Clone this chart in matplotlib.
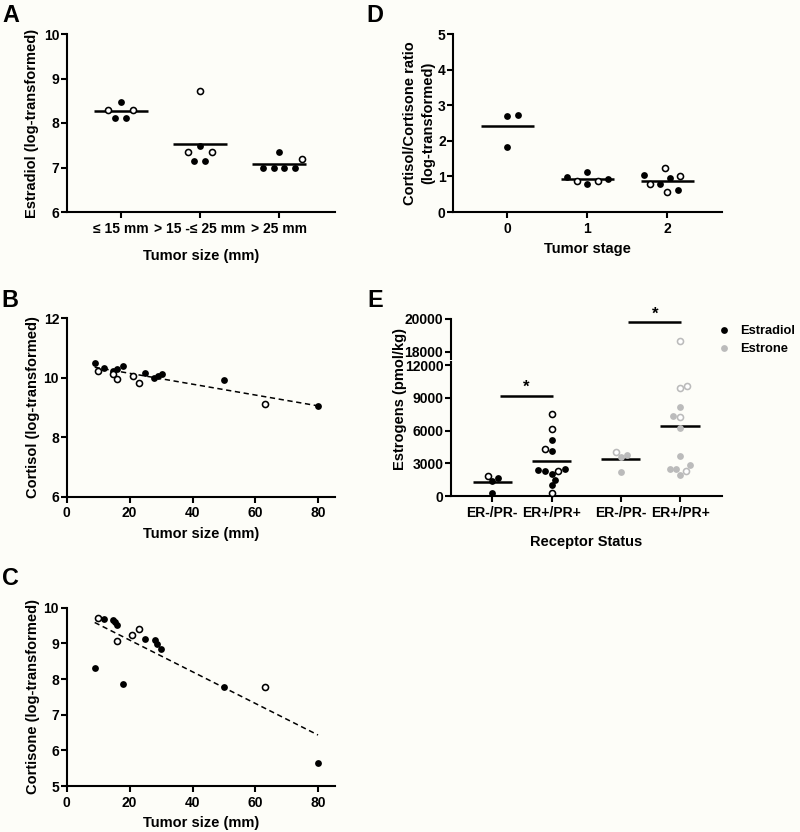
import numpy as np
import matplotlib
matplotlib.use("Agg")
import matplotlib.pyplot as plt
from matplotlib.lines import Line2D

plt.rcParams['font.family'] = ['Liberation Sans', 'DejaVu Sans']
plt.rcParams['font.weight'] = 'bold'
plt.rcParams['axes.labelweight'] = 'bold'
plt.rcParams['font.size'] = 10
plt.rcParams['lines.scale_dashes'] = False

BG = '#fdfdf8'
GRAY = '#bbbbbb'

# ---------------- data ----------------
# Panel A: estradiol (log) by tumour size category; open = open-circle subgroup
a_categories = ['\u2264 15 mm', '> 15 -\u2264 25 mm', '> 25 mm']
a_values = [[8.30, 8.47, 8.12, 8.12, 8.30],
            [8.71, 7.49, 7.34, 7.34, 7.15, 7.15],
            [7.18, 7.35, 7.00, 7.00, 7.00, 7.00]]
a_open = [[1, 0, 0, 0, 1],
          [1, 0, 1, 1, 0, 0],
          [1, 0, 0, 0, 0, 0]]

# Panel B: cortisol (log) vs tumour size
b_size = [8.9, 9.9, 12.0, 14.8, 15.9, 14.8, 15.9, 18.0, 21.0, 23.0, 25.0,
          27.9, 29.1, 30.2, 50.0, 63.0, 80.0]
b_cortisol = [10.51, 10.23, 10.34, 10.24, 10.28, 10.12, 9.96, 10.40, 10.06,
              9.83, 10.15, 10.00, 10.06, 10.12, 9.91, 9.11, 9.05]
b_open = [0, 1, 0, 0, 0, 1, 1, 0, 1, 1, 0, 0, 0, 0, 0, 1, 0]

# Panel C: cortisone (log) vs tumour size
c_size = [9.9, 12.0, 14.8, 15.4, 16.1, 15.9, 20.9, 23.0, 25.0, 28.0, 28.8,
          30.0, 8.9, 18.0, 49.9, 62.9, 79.9]
c_cortisone = [9.72, 9.67, 9.66, 9.59, 9.51, 9.07, 9.23, 9.40, 9.12, 9.09,
               8.97, 8.84, 8.30, 7.86, 7.79, 7.79, 5.65]
c_open = [1, 0, 0, 0, 0, 1, 1, 1, 0, 0, 0, 0, 0, 0, 0, 1, 0]

# Panel D: cortisol/cortisone ratio (log) by tumour stage
d_stages = ['0', '1', '2']
d_values = [[2.72, 2.69, 1.83],
            [0.97, 0.87, 1.13, 0.79, 0.87, 0.93],
            [1.23, 1.00, 0.96, 1.04, 0.78, 0.80, 0.57, 0.62]]
d_open = [[0, 0, 0],
          [0, 1, 0, 0, 1, 0],
          [1, 1, 0, 0, 1, 0, 1, 0]]

# Panel E: estrogens (pmol/kg) by receptor status
e_labels = ['ER-/PR-', 'ER+/PR+', 'ER-/PR-', 'ER+/PR+']
e_hormone = ['Estradiol', 'Estradiol', 'Estrone', 'Estrone']
e_values = [[1667, 1360, 1812, 308],
            [7493, 6106, 5110, 4322, 4140, 2300, 2482, 2056, 2391, 2265,
             1513, 969, 308],
            [3750, 3623, 4078, 2175],
            [18650, 9875, 10057, 8154, 7375, 7248, 6197, 3660, 2809, 2482,
             1939, 2301, 2482]]
e_open = [[0, 0, 1, 0],
          [1, 1, 0, 1, 0, 1, 0, 0, 0, 0, 0, 0, 1],
          [0, 0, 1, 0],
          [1, 1, 1, 0, 0, 1, 0, 0, 0, 0, 0, 1, 0]]
e_sig_pairs = [(0, 1), (2, 3)]
e_sig_label = ['*', '*']

# ---------------- layout ----------------
W, H = 800, 832
fig = plt.figure(figsize=(W / 100, H / 100), dpi=100, facecolor=BG)


def add_box(x0, ytop, x1, ybot):
    ax = fig.add_axes([x0 / W, 1 - ybot / H, (x1 - x0) / W, (ybot - ytop) / H])
    ax.set_facecolor('none')
    return ax


def style(ax, hide_bottom=False):
    for s in ['top', 'right']:
        ax.spines[s].set_visible(False)
    for s in ['left', 'bottom']:
        ax.spines[s].set_linewidth(1.5)
        ax.spines[s].set_capstyle('projecting')
    if hide_bottom:
        ax.spines['bottom'].set_visible(False)
        ax.tick_params(axis='x', bottom=False, labelbottom=False)
    ax.tick_params(axis='both', direction='out', length=4, width=1.5,
                   labelsize=10, pad=1.5)
    ax.tick_params(axis='x', pad=3)


def label_at(ax, box, xlabel=None, xl_y=None, ylabel=None, yl_x=None, **kw):
    x0, ytop, x1, ybot = box
    if xlabel is not None:
        ax.set_xlabel(xlabel, fontsize=10.5)
        ax.xaxis.label.set_va('center')
        ax.xaxis.set_label_coords(0.5, (ybot - xl_y) / (ybot - ytop))
    if ylabel is not None:
        ax.set_ylabel(ylabel, fontsize=10.5, **kw)
        ax.yaxis.label.set_va('center')
        ax.yaxis.set_label_coords((yl_x - x0) / (x1 - x0), 0.5)


def swarm(ax, center, values, min_dist, row_tol=1.0, ax_for=None):
    values = np.asarray(values, float)
    n = len(values)
    ys = np.array([(ax_for(v) if ax_for else ax).transData.transform((center, v))[1]
                   for v in values])
    cx = ax.transData.transform((center, 0))[0]
    unit = ax.transData.transform((center + 1, 0))[0] - cx
    order = np.argsort(ys, kind='stable')
    px, py = [], []
    off = np.zeros(n)

    def ok(xs, yr):
        for x, y in zip(xs, yr):
            for a, b in zip(px, py):
                if (x - a) ** 2 + (y - b) ** 2 < min_dist ** 2 - 1e-6:
                    return False
        return True

    steps = np.arange(0, 400) * 0.25
    i = 0
    while i < n:
        j = i + 1
        while j < n and ys[order[j]] - ys[order[i]] <= row_tol:
            j += 1
        idx = order[i:j]
        yr = ys[idx]
        m = len(idx)
        if m == 1:
            bias = np.mean(px) if px else 0.0
            res = None
            for s in steps:
                for c in ([s, -s] if bias <= 0 else [-s, s]):
                    if ok([c], yr):
                        res = [c]
                        break
                if res is not None:
                    break
        else:
            base = np.arange(m) - (m - 1) / 2
            sym = None
            for g in min_dist + steps:
                if ok(base * g, yr):
                    sym = base * g
                    break
            sh = None
            for s in steps:
                for c in (s, -s):
                    if ok(base * min_dist + c, yr):
                        sh = base * min_dist + c
                        break
                if sh is not None:
                    break
            res = sym
            if res is None or (sh is not None and np.max(np.abs(sh)) < np.max(np.abs(sym)) - 0.5):
                res = sh
        for k, x in zip(idx, res):
            off[k] = x
            px.append(x)
            py.append(ys[k])
        i = j
    return center + off / unit


MS_F = 24     # filled marker area (pt^2)
MS_O = 19     # open marker area


def draw_points(ax, xs, ys, opens, color='k'):
    xs, ys, opens = np.asarray(xs), np.asarray(ys), np.asarray(opens, bool)
    ax.scatter(xs[~opens], ys[~opens], s=MS_F, c=color, linewidths=0,
               zorder=3, clip_on=False)
    ax.scatter(xs[opens], ys[opens], s=MS_O, facecolors='white',
               edgecolors=color, linewidths=1.15, zorder=3, clip_on=False)


def mean_line(ax, c, vals, half=0.34):
    m = np.mean(vals)
    ax.plot([c - half, c + half], [m, m], color='k', lw=1.8,
            solid_capstyle='butt', zorder=2)


# ---------------- Panel A ----------------
boxA = (67, 34, 335, 212)
axA = add_box(*boxA)
style(axA)
axA.set_xlim(-0.68, 2.71)
axA.set_ylim(6, 10)
axA.set_yticks([6, 7, 8, 9, 10])
axA.set_xticks(range(len(a_categories)))
axA.set_xticklabels(a_categories)
for i, (vals, op) in enumerate(zip(a_values, a_open)):
    xs = swarm(axA, i, vals, 10.7)
    mean_line(axA, i, vals, 0.34)
    draw_points(axA, xs, vals, op)
label_at(axA, boxA, 'Tumor size (mm)', 256, 'Estradiol (log-transformed)', 32.3)

# ---------------- Panel B ----------------
boxB = (66.7, 318.3, 335, 496.7)
axB = add_box(*boxB)
style(axB)
axB.set_xlim(0, 85.3)
axB.set_ylim(6, 12)
axB.set_xticks([0, 20, 40, 60, 80])
axB.set_yticks([6, 8, 10, 12])
k, b = np.polyfit(b_size, b_cortisol, 1)
xx = np.array([min(b_size), max(b_size)])
axB.plot(xx, k * xx + b, color='k', lw=1.1, dashes=(3.8, 2.6), zorder=2)
draw_points(axB, b_size, b_cortisol, b_open)
label_at(axB, boxB, 'Tumor size (mm)', 534.3, 'Cortisol (log-transformed)', 33.3)

# ---------------- Panel C ----------------
boxC = (66.7, 607.7, 335, 786)
axC = add_box(*boxC)
style(axC)
axC.set_xlim(0, 85.3)
axC.set_ylim(5, 10)
axC.set_xticks([0, 20, 40, 60, 80])
axC.set_yticks([5, 6, 7, 8, 9, 10])
k, b = np.polyfit(c_size, c_cortisone, 1)
xx = np.array([min(c_size), max(c_size)])
axC.plot(xx, k * xx + b, color='k', lw=1.1, dashes=(3.8, 2.6), zorder=2)
draw_points(axC, c_size, c_cortisone, c_open)
label_at(axC, boxC, 'Tumor size (mm)', 823.3, 'Cortisone (log-transformed)', 33.3)

# ---------------- Panel D ----------------
boxD = (453.3, 34, 721.7, 212)
axD = add_box(*boxD)
style(axD)
axD.set_xlim(-0.675, 2.68)
axD.set_ylim(0, 5)
axD.set_yticks([0, 1, 2, 3, 4, 5])
axD.set_xticks(range(len(d_stages)))
axD.set_xticklabels(d_stages)
for i, (vals, op) in enumerate(zip(d_values, d_open)):
    xs = swarm(axD, i, vals, 10.7)
    mean_line(axD, i, vals, 0.33)
    draw_points(axD, xs, vals, op)
label_at(axD, boxD, 'Tumor stage', 249.3,
         'Cortisol/Cortisone ratio\n(log-transformed)', 419.5,
         multialignment='center', linespacing=1.4)

# ---------------- Panel E ----------------
boxE = (451, 362, 721.7, 496)
boxEu = (451, 319, 721.7, 359.1)
axE = add_box(*boxE)
axEu = add_box(*boxEu)
style(axE)
style(axEu, hide_bottom=True)
e_gap = 0.16
e_pos = [i + (e_gap if e_hormone[i] == 'Estrone' else 0) for i in range(len(e_labels))]
for a in (axE, axEu):
    a.set_xlim(-0.695, 3.86)
axE.set_ylim(0, 12300)
axEu.set_ylim(17550, 20000)
axE.set_yticks([0, 3000, 6000, 9000, 12000])
axEu.set_yticks([18000, 20000])
axE.set_xticks(e_pos)
axE.set_xticklabels(e_labels)
hcolor = {'Estradiol': 'k', 'Estrone': GRAY}


def e_ax(v):
    return axEu if v > 12000 else axE


for i, (vals, op) in enumerate(zip(e_values, e_open)):
    xs = swarm(axE, e_pos[i], vals, 6.8, ax_for=e_ax)
    vals = np.asarray(vals)
    mean_line(axE, e_pos[i], vals, 0.33)
    col = hcolor[e_hormone[i]]
    lo = vals <= 12000
    draw_points(axE, xs[lo], vals[lo], np.asarray(op)[lo], color=col)
    draw_points(axEu, xs[~lo], vals[~lo], np.asarray(op)[~lo], color=col)

# significance bars (placed just above the highest point of each pair)
sig_axes = [axE, axEu]
sig_y = [9200, 19800]
for (p, q), lab, a, yb in zip(e_sig_pairs, e_sig_label, sig_axes, sig_y):
    x1, x2 = e_pos[p] + 0.13, e_pos[q] + 0.02
    a.plot([x1, x2], [yb, yb], color='k', lw=1.8, solid_capstyle='butt', clip_on=False)
    a.annotate(lab, xy=((x1 + x2) / 2, yb), xytext=(0, 0.5), textcoords='offset points',
               ha='center', va='bottom', fontsize=12, annotation_clip=False)

label_at(axE, boxE, 'Receptor Status', 541.7)
fig.text(400 / W, 1 - 399 / H, 'Estrogens (pmol/kg)', rotation=90, ha='center',
         va='center', fontsize=10.5, fontweight='bold')

handles = [Line2D([], [], marker='o', ls='', color=hcolor[h], markersize=4.9,
                  markeredgewidth=0, label=h) for h in ['Estradiol', 'Estrone']]
axE.legend(handles=handles, loc='center left',
           bbox_to_anchor=(718.0 / W, 1 - 340.3 / H), bbox_transform=fig.transFigure,
           frameon=False, borderpad=0, handlelength=1.0, handletextpad=0.75,
           labelspacing=0.45, fontsize=9.3, borderaxespad=0)

# ---------------- panel letters ----------------
for letter, x, yb in [('A', 2.7, 21.7), ('B', 1.6, 306.7), ('C', 2.2, 585),
                      ('D', 366.6, 21.7), ('E', 367.6, 306.7)]:
    fig.text(x / W, 1 - yb / H, letter, fontsize=16.8, fontweight='bold',
             ha='left', va='baseline')

fig.savefig('out.png', dpi=100, facecolor=BG)
